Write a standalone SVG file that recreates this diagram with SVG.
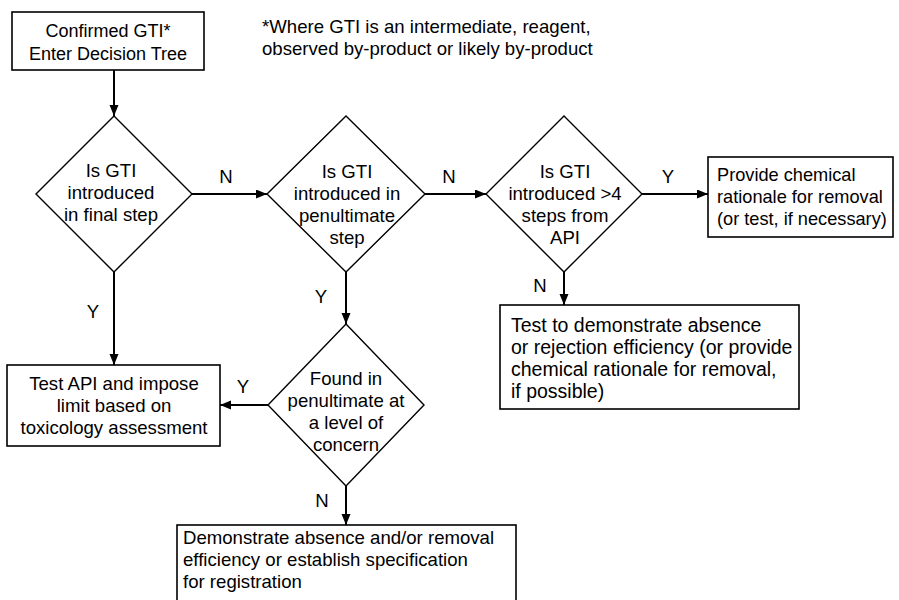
<svg xmlns="http://www.w3.org/2000/svg" width="899" height="600" viewBox="0 0 899 600">
<style>
  .box{fill:#fff;stroke:#000;stroke-width:1.6}
  .dia{fill:#fff;stroke:#000;stroke-width:1.4}
  .t{font-family:"Liberation Sans",Arial,sans-serif;font-size:18.6px;fill:#000}
  .c{text-anchor:middle}
  .big{font-size:19.5px}
  .sm{font-size:18.2px}
  .edge{stroke:#000;stroke-width:2;fill:none;marker-end:url(#ah)}
</style>
<defs>
  <marker id="ah" markerUnits="userSpaceOnUse" markerWidth="12" markerHeight="10" refX="11" refY="4.5" orient="auto">
    <path d="M0,0 L11,4.5 L0,9 z" fill="#000"/>
  </marker>
</defs>
<rect width="899" height="600" fill="#fff"/>

<g id="connectors">
  <line class="edge" x1="114" y1="70" x2="114" y2="116"/>
  <line class="edge" x1="192" y1="194" x2="267" y2="194"/>
  <line class="edge" x1="425" y1="194" x2="486" y2="194"/>
  <line class="edge" x1="642" y1="194" x2="708" y2="194"/>
  <line class="edge" x1="114" y1="272" x2="114" y2="365"/>
  <line class="edge" x1="346" y1="272" x2="346" y2="324"/>
  <line class="edge" x1="564" y1="272" x2="564" y2="305"/>
  <line class="edge" x1="268" y1="405" x2="220" y2="405"/>
  <line class="edge" x1="346" y1="486" x2="346" y2="525"/>
  <text class="t c" x="226" y="183">N</text>
  <text class="t c" x="449" y="183">N</text>
  <text class="t c" x="668" y="183">Y</text>
  <text class="t c" x="93" y="318">Y</text>
  <text class="t c" x="321" y="303">Y</text>
  <text class="t c" x="243" y="393">Y</text>
  <text class="t c" x="540" y="292">N</text>
  <text class="t c" x="322" y="507">N</text>
</g>

<g id="start">
  <rect class="box" x="12" y="12" width="192" height="58"/>
  <text class="t c" x="108" y="37" style="font-size:18px">Confirmed GTI*</text>
  <text class="t c" x="108" y="60" style="font-size:18px">Enter Decision Tree</text>
</g>

<g id="footnote">
  <text class="t" x="262" y="33">*Where GTI is an intermediate, reagent,</text>
  <text class="t" x="262" y="55">observed by-product or likely by-product</text>
</g>

<g id="d-final">
  <polygon class="dia" points="114,116 192,194 114,272 36,194"/>
  <text class="t c" x="111" y="177">Is GTI</text>
  <text class="t c" x="111" y="199">introduced</text>
  <text class="t c" x="111" y="221">in final step</text>
</g>

<g id="d-penult">
  <polygon class="dia" points="346,116 425,194 346,272 267,194"/>
  <text class="t c" x="347" y="178">Is GTI</text>
  <text class="t c" x="347" y="200">introduced in</text>
  <text class="t c" x="347" y="222">penultimate</text>
  <text class="t c" x="347" y="244">step</text>
</g>

<g id="d-steps">
  <polygon class="dia" points="564,116 642,194 564,272 486,194"/>
  <text class="t c" x="565" y="178">Is GTI</text>
  <text class="t c" x="565" y="200">introduced &gt;4</text>
  <text class="t c" x="565" y="222">steps from</text>
  <text class="t c" x="565" y="244">API</text>
</g>

<g id="provide">
  <rect class="box" x="708" y="157" width="185" height="80"/>
  <text class="t sm" x="717" y="181">Provide chemical</text>
  <text class="t sm" x="717" y="203">rationale for removal</text>
  <text class="t sm" x="717" y="225">(or test, if necessary)</text>
</g>

<g id="test-absence">
  <rect class="box" x="500" y="305" width="299" height="104"/>
  <text class="t big" x="511" y="332">Test to demonstrate absence</text>
  <text class="t big" x="511" y="354">or rejection efficiency (or provide</text>
  <text class="t big" x="511" y="376">chemical rationale for removal,</text>
  <text class="t big" x="511" y="398">if possible)</text>
</g>

<g id="test-api">
  <rect class="box" x="7" y="365" width="213" height="81"/>
  <text class="t c" x="114" y="390">Test API and impose</text>
  <text class="t c" x="114" y="412">limit based on</text>
  <text class="t c" x="114" y="434">toxicology assessment</text>
</g>

<g id="d-found">
  <polygon class="dia" points="346,324 424,405 346,486 268,405"/>
  <text class="t c" x="346" y="385">Found in</text>
  <text class="t c" x="346" y="407">penultimate at</text>
  <text class="t c" x="346" y="429">a level of</text>
  <text class="t c" x="346" y="451">concern</text>
</g>

<g id="demonstrate">
  <rect class="box" x="177" y="525" width="339" height="85"/>
  <text class="t" x="183" y="544">Demonstrate absence and/or removal</text>
  <text class="t" x="183" y="566">efficiency or establish specification</text>
  <text class="t" x="183" y="588">for registration</text>
</g>
</svg>
